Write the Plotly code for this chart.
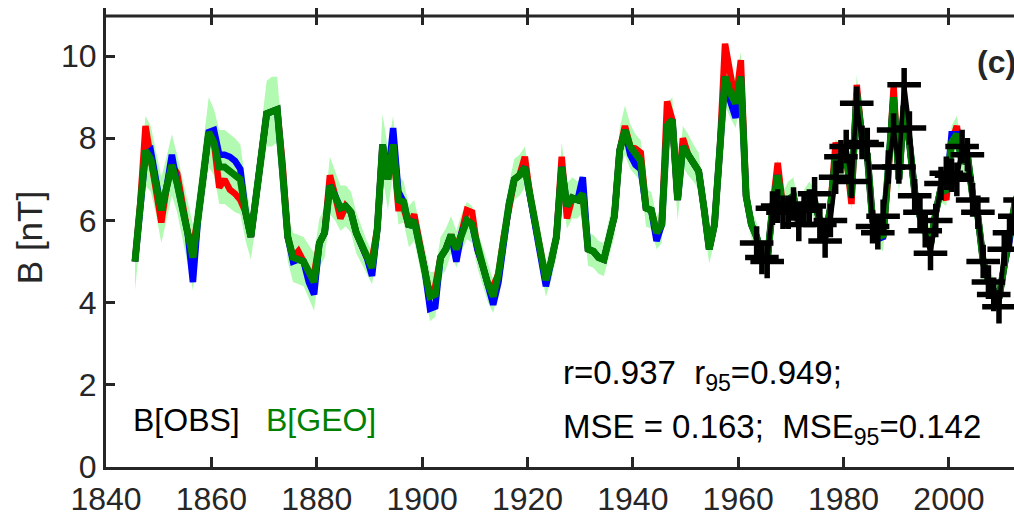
import plotly.graph_objects as go

# ---------------- data ----------------
years = list(range(1845, 2014))

# B[GEO] reconstruction (green line)
geo = [
    5.0, 6.4, 7.7, 7.5, 6.9,
    6.25, 6.8, 7.35, 6.9, 6.3, 5.7, 5.1, 6.1, 7.1, 8.15,
    7.9, 7.3, 7.3, 7.2, 7.1, 7.0, 6.2, 5.6, 6.6, 7.6,
    8.6, 8.65, 8.7, 7.2, 5.6, 5.1, 5.05, 5.0, 4.75, 4.5,
    5.45, 5.7, 6.85, 6.6, 6.3, 6.35, 6.2, 5.7, 5.4, 5.1,
    4.85, 5.8, 7.85, 7.0, 7.85, 6.5, 6.45, 5.85, 6.0, 5.4,
    4.8, 4.15, 4.2, 5.1, 5.3, 5.65, 5.3, 5.7, 6.0, 5.9,
    5.3, 4.9, 4.45, 4.15, 4.7, 5.6, 6.4, 7.0, 7.1, 7.3,
    6.6, 5.9, 5.2, 4.55, 5.0, 5.6, 7.3, 6.35, 6.55, 6.5,
    6.65, 5.3, 5.25, 5.1, 5.05, 5.6, 6.1, 7.7, 8.2, 7.8,
    7.6, 7.45, 6.3, 6.25, 5.7, 5.9, 8.3, 8.45, 6.5, 7.8,
    7.6, 7.4, 7.2, 6.3, 5.3, 5.9, 7.7, 9.5, 9.1, 8.85,
    9.5, 6.6, 5.9, 5.6, 5.1, 5.0, 6.3, 7.1, 6.3, 6.5,
    6.6, 5.9, 6.4, 6.6, 6.4, 6.0, 5.6, 6.3, 7.6, 7.3,
    7.6, 6.6, 9.1, 8.0, 7.6, 6.0, 5.7, 5.6, 7.1, 9.0,
    7.0, 8.8, 7.9, 6.7, 6.1, 5.8, 5.4, 6.2, 6.8, 6.7,
    7.9, 8.1, 7.4, 7.6, 6.6, 6.1, 5.0, 4.5, 4.3, 4.1,
    4.9, 5.6, 6.4, 6.8,
]

# red and blue variants: values where they visibly differ from the green line
red_values = {
    1847: 8.3, 1850: 5.95, 1853: 7.15, 1856: 5.35, 1861: 6.8, 1862: 7.0,
    1863: 6.75, 1864: 6.65, 1865: 6.5, 1873: 7.4, 1876: 5.25, 1879: 4.7,
    1882: 7.1, 1884: 6.05, 1890: 5.05, 1895: 6.3, 1896: 6.3, 1898: 6.15,
    1902: 4.4, 1908: 6.25, 1909: 6.2, 1913: 4.4, 1919: 7.55, 1926: 7.55,
    1927: 6.05, 1938: 8.3, 1940: 7.75, 1941: 7.65, 1946: 8.9, 1949: 8.0,
    1957: 10.3, 1958: 9.6, 1960: 9.9, 1967: 7.4, 1978: 7.9, 1981: 6.4,
    1982: 9.3, 1989: 9.25, 1999: 6.5, 2001: 8.3,
}
blue_values = {
    1847: 7.6, 1848: 7.7, 1852: 7.6, 1856: 4.5, 1860: 8.2, 1861: 7.6,
    1862: 7.6, 1863: 7.55, 1864: 7.45, 1865: 7.25, 1875: 5.0, 1878: 4.5,
    1879: 4.2, 1890: 4.65, 1894: 8.25, 1895: 6.7, 1901: 3.85, 1902: 3.9,
    1906: 5.0, 1913: 3.95, 1914: 4.5, 1923: 4.4, 1930: 7.05, 1939: 7.6,
    1940: 7.35, 1941: 7.25, 1944: 5.5, 1958: 8.9, 1959: 8.5, 1986: 5.55,
    2000: 8.1, 2011: 5.5,
}

# half width of the light-green uncertainty band
band_half = [
    0.7, 0.8, 0.85, 0.8, 0.75,
    0.8, 0.75, 0.75, 0.7, 0.75, 0.8, 0.8, 0.75, 0.8, 0.85,
    0.8, 0.9, 0.9, 0.9, 0.9, 0.85, 0.7, 0.55, 0.6, 0.7,
    0.8, 0.85, 0.8, 0.7, 0.6, 0.6, 0.6, 0.6, 0.65, 0.7,
    0.6, 0.6, 0.7, 0.6, 0.55, 0.5, 0.5, 0.5, 0.45, 0.4,
    0.4, 0.6, 0.75, 0.75, 0.7, 0.6, 0.5, 0.5, 0.5, 0.5,
    0.55, 0.6, 0.55, 0.5, 0.5, 0.45, 0.45, 0.45, 0.45, 0.45,
    0.45, 0.45, 0.45, 0.4, 0.4, 0.45, 0.5, 0.5, 0.5, 0.5,
    0.45, 0.45, 0.4, 0.4, 0.45, 0.5, 0.6, 0.55, 0.5, 0.45,
    0.45, 0.4, 0.4, 0.4, 0.4, 0.45, 0.5, 0.55, 0.6, 0.55,
    0.5, 0.5, 0.45, 0.45, 0.4, 0.45, 0.55, 0.55, 0.5, 0.5,
    0.5, 0.45, 0.45, 0.4, 0.35, 0.4, 0.5, 0.7, 0.6, 0.6,
    0.6, 0.4, 0.35, 0.35, 0.35, 0.35, 0.4, 0.4, 0.4, 0.45,
    0.45, 0.35, 0.35, 0.35, 0.35, 0.35, 0.35, 0.35, 0.4, 0.35,
    0.35, 0.35, 0.45, 0.35, 0.35, 0.35, 0.35, 0.35, 0.35, 0.45,
    0.35, 0.4, 0.4, 0.35, 0.35, 0.35, 0.35, 0.35, 0.35, 0.35,
    0.4, 0.45, 0.35, 0.35, 0.35, 0.35, 0.3, 0.3, 0.3, 0.3,
    0.3, 0.3, 0.3, 0.3,
]

# B[OBS] observed annual means (black crosses)
obs_years = list(range(1963, 2014))
obs = [
    5.45, 5.1, 5.0, 6.3, 6.35, 6.2, 6.2,
    6.4, 5.9, 6.25, 6.35, 6.65, 5.9, 5.5, 6.0, 7.05, 7.55,
    7.8, 6.95, 8.85, 7.9, 7.85, 5.85, 5.7, 6.1, 7.3, 8.2,
    7.3, 9.3, 8.25, 6.6, 6.2, 5.75, 5.2, 6.0, 6.9, 7.15,
    7.1, 7.0, 7.8, 7.6, 6.5, 6.2, 5.0, 4.5, 4.2, 3.9,
    5.3, 5.7, 6.1, 6.5,
]

x_ticks = [1840, 1860, 1880, 1900, 1920, 1940, 1960, 1980, 2000, 2020]
y_ticks = [0, 2, 4, 6, 8, 10]

# ---------------- derived ----------------
xm = [y + 0.5 for y in years]          # annual means plotted at mid-year
xo = [y + 0.5 for y in obs_years]
red = [red_values.get(y, g) for y, g in zip(years, geo)]
blue = [blue_values.get(y, g) for y, g in zip(years, geo)]
band_lo = [g - h for g, h in zip(geo, band_half)]
band_hi = [g + h for g, h in zip(geo, band_half)]

AX = "rgb(38,38,38)"
FONT = "Liberation Sans, Arial, sans-serif"

# plot-area pixel frame
L, R, T, B = 106, 1014, 8, 467
def px(x):
    return (x - L) / (R - L)
def py(y):
    return (B - y) / (B - T)

fig = go.Figure()
fig.add_trace(go.Scatter(x=xm, y=band_lo, mode="lines", line=dict(width=0),
                         hoverinfo="skip", showlegend=False))
fig.add_trace(go.Scatter(x=xm, y=band_hi, mode="lines", line=dict(width=0),
                         fill="tonexty", fillcolor="rgb(178,250,178)",
                         hoverinfo="skip", showlegend=False))
fig.add_trace(go.Scatter(x=xm, y=red, mode="lines",
                         line=dict(color="rgb(255,0,0)", width=6.5), showlegend=False))
fig.add_trace(go.Scatter(x=xm, y=blue, mode="lines",
                         line=dict(color="rgb(0,0,255)", width=6.5), showlegend=False))
fig.add_trace(go.Scatter(x=xm, y=geo, mode="lines",
                         line=dict(color="rgb(0,128,0)", width=7), showlegend=False))
fig.add_trace(go.Scatter(x=xo, y=obs, mode="lines+markers",
                         line=dict(color="black", width=4.5),
                         marker=dict(symbol="cross-thin", size=24, color="black",
                                     line=dict(color="black", width=5.5)),
                         showlegend=False))

fig.update_layout(
    width=1014, height=516,
    margin=dict(l=L, r=1014 - R, t=T, b=516 - B, pad=0, autoexpand=False),
    paper_bgcolor="white", plot_bgcolor="white",
    font=dict(family=FONT, color=AX, size=32),
    xaxis=dict(range=[1840, 2012.35], tickvals=x_ticks, ticks="inside",
               ticklen=10, tickwidth=3, tickcolor=AX, showline=True,
               linewidth=3, linecolor=AX, showgrid=False, zeroline=False,
               automargin=False,
               tickfont=dict(size=32, color=AX), ticklabelstandoff=2),
    xaxis2=dict(range=[1840, 2012.35], tickvals=x_ticks, overlaying="x",
                side="top", ticks="inside", ticklen=17, tickwidth=3,
                tickcolor=AX, showticklabels=False, showline=False,
                showgrid=False, zeroline=False, automargin=False),
    yaxis=dict(range=[0, (B - T) / 41.09], tickvals=y_ticks, ticks="inside",
               ticklen=9, tickwidth=3, tickcolor=AX, showline=True,
               linewidth=3, linecolor=AX, showgrid=False, zeroline=False,
               automargin=False,
               tickfont=dict(size=32, color=AX),
               title=dict(text="B [nT]", font=dict(size=35, color=AX), standoff=8)),
)
# invisible trace to activate the top axis
fig.add_trace(go.Scatter(x=[1840], y=[0], xaxis="x2", mode="markers",
                         marker=dict(opacity=0), hoverinfo="skip", showlegend=False))

fig.add_shape(type="line", xref="paper", yref="paper", x0=0, x1=1,
              y0=py(16), y1=py(16), line=dict(color=AX, width=3))

fig.add_annotation(x=px(561), y=py(352), xref="paper", yref="paper",
                   xanchor="left", yanchor="top", showarrow=False,
                   text="r=0.937\u00a0\u00a0r<sub>95</sub>=0.949;",
                   font=dict(size=33, color="black"))
fig.add_annotation(x=px(561), y=py(406), xref="paper", yref="paper",
                   xanchor="left", yanchor="top", showarrow=False,
                   text="MSE = 0.163;\u00a0\u00a0MSE<sub>95</sub>=0.142",
                   font=dict(size=33, color="black"))
fig.add_annotation(x=px(131), y=py(400), xref="paper", yref="paper",
                   xanchor="left", yanchor="top", showarrow=False,
                   text="B[OBS]", font=dict(size=32, color="black"))
fig.add_annotation(x=px(264), y=py(400), xref="paper", yref="paper",
                   xanchor="left", yanchor="top", showarrow=False,
                   text="B[GEO]", font=dict(size=32, color="rgb(0,128,0)"))
fig.add_annotation(x=px(975), y=py(42), xref="paper", yref="paper",
                   xanchor="left", yanchor="top", showarrow=False,
                   text="<b>(c)</b>", font=dict(size=32, color=AX))

fig.write_html("out.html",
               config={"displayModeBar": False},
               post_script="document.body.style.margin='0';"
                           "document.body.style.overflow='hidden';")
